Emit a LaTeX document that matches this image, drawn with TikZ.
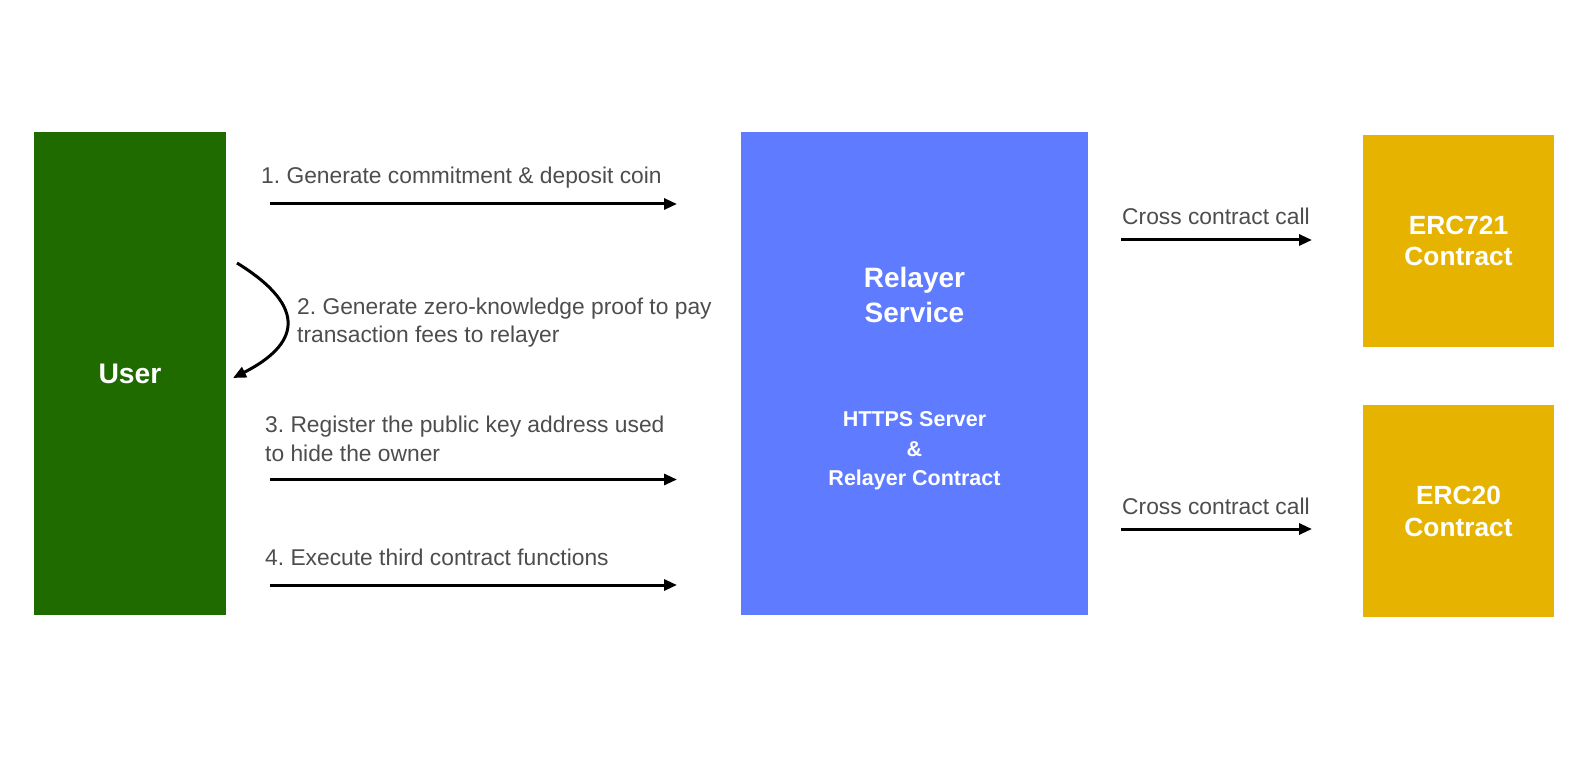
\documentclass[tikz,border=0pt]{standalone}
\usepackage{fontspec}
\setmainfont{Liberation Sans}
\usetikzlibrary{arrows.meta}
\definecolor{usergreen}{HTML}{1F6B00}
\definecolor{relblue}{HTML}{5F7BFF}
\definecolor{ercgold}{HTML}{E6B400}
\definecolor{labgray}{HTML}{4D4D4D}
\frenchspacing
\tikzset{
  boxnode/.style={rectangle, draw=none, inner sep=0pt, anchor=center},
  lab/.style={inner sep=0pt, anchor=base west, text=labgray, font=\fontsize{22.8}{27}\selectfont},
  intext/.style={inner sep=0pt, anchor=base, text=white},
  arr/.style={line width=3pt, -{Triangle[length=13pt,width=11pt]}},
}
\begin{document}
\begin{tikzpicture}[x=1pt,y=-1pt]
\useasboundingbox (0,0) rectangle (1593,775);
% boxes
\node[boxnode, fill=usergreen, minimum width=192pt, minimum height=483pt] (user) at (130,373.5) {};
\node[boxnode, fill=relblue, minimum width=347pt, minimum height=483pt] (relayer) at (914.5,373.5) {};
\node[boxnode, fill=ercgold, minimum width=191pt, minimum height=212pt] (erc721) at (1458.5,241) {};
\node[boxnode, fill=ercgold, minimum width=191pt, minimum height=211pt] (erc20) at (1458.5,511) {};
% box texts
\node[intext, font=\bfseries\fontsize{28.3}{34}\selectfont] (usert) at (130,384) {User};
\node[intext, font=\bfseries\fontsize{28}{34}\selectfont] (relt1) at (914.5,288) {Relayer};
\node[intext, font=\bfseries\fontsize{28}{34}\selectfont] (relt2) at (914.5,323) {Service};
\node[intext, font=\bfseries\fontsize{21.5}{26}\selectfont] (rels1) at (914.5,427) {HTTPS Server};
\node[intext, font=\bfseries\fontsize{21.5}{26}\selectfont] (rels2) at (914.5,456) {\&};
\node[intext, font=\bfseries\fontsize{21.5}{26}\selectfont] (rels3) at (914.5,485) {Relayer Contract};
\node[intext, font=\bfseries\fontsize{26.3}{31}\selectfont] (e721a) at (1458.5,235) {ERC721};
\node[intext, font=\bfseries\fontsize{26.3}{31}\selectfont] (e721b) at (1458.5,266) {Contract};
\node[intext, font=\bfseries\fontsize{26.3}{31}\selectfont] (e20a) at (1458.5,504) {ERC20};
\node[intext, font=\bfseries\fontsize{26.3}{31}\selectfont] (e20b) at (1458.5,536) {Contract};
% labels
\node[lab] (l1) at (261,183.3) {1. Generate commitment \& deposit coin};
\node[lab] (l2a) at (297,315) {2. Generate zero-knowledge proof to pay};
\node[lab] (l2b) at (297,343) {transaction fees to relayer};
\node[lab] (l3a) at (265,432.7) {3. Register the public key address used};
\node[lab] (l3b) at (265,461) {to hide the owner};
\node[lab] (l4) at (265,565) {4. Execute third contract functions};
\node[lab] (lc1) at (1122,225) {Cross contract call};
\node[lab] (lc2) at (1122,514) {Cross contract call};
% connector end points
\coordinate (a1s) at (270,204);   \coordinate (a1e) at (677,204);
\coordinate (a3s) at (270,479.5); \coordinate (a3e) at (677,479.5);
\coordinate (a4s) at (270,585);   \coordinate (a4e) at (677,585);
\coordinate (c1s) at (1121,240);  \coordinate (c1e) at (1312,240);
\coordinate (c2s) at (1121,529);  \coordinate (c2e) at (1312,529);
\coordinate (b2s) at (237,263);   \coordinate (b2e) at (233,378);
% connectors
\draw[arr] (a1s) -- (a1e);
\draw[arr] (a3s) -- (a3e);
\draw[arr] (a4s) -- (a4e);
\draw[arr] (c1s) -- (c1e);
\draw[arr] (c2s) -- (c2e);
\draw[arr] (b2s) .. controls (310,308) and (298,345) .. (b2e);
\end{tikzpicture}
\end{document}
